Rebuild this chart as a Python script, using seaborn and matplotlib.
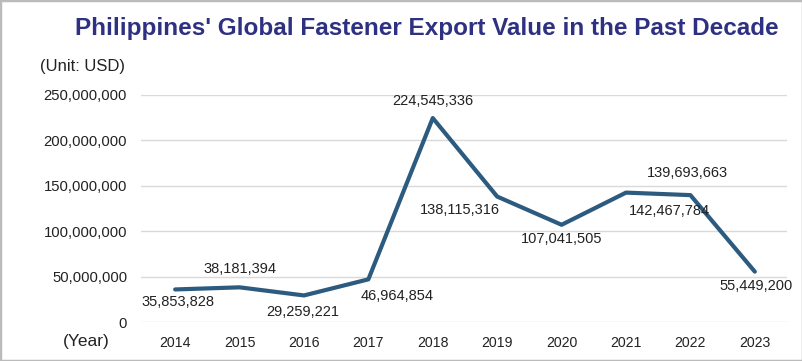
import pandas as pd
import seaborn as sns
import matplotlib.pyplot as plt
from matplotlib.patches import Rectangle

years = ["2014", "2015", "2016", "2017", "2018", "2019", "2020", "2021", "2022", "2023"]
values = [35853828, 38181394, 29259221, 46964854, 224545336,
          138115316, 107041505, 142467784, 139693663, 55449200]
# label offsets in points (dx, dy) relative to each point
offsets = [(2, -9), (0, 13), (-1, -12), (21, -12), (0, 12),
           (-27, -10), (0, -10), (31, -13), (-2, 16), (1, -10.5)]

df = pd.DataFrame({"year": years, "value": values})

sns.set_style("white")
plt.rcParams["font.family"] = ["Liberation Sans", "DejaVu Sans"]

fig = plt.figure(figsize=(8.03, 3.61), dpi=100)
ax = fig.add_axes([0.1756, 0.108, 0.8045, 0.629])

sns.lineplot(data=df, x="year", y="value", ax=ax, color="#2D5B7F",
             linewidth=3, sort=False)

for i, (v, (dx, dy)) in enumerate(zip(values, offsets)):
    ax.annotate(f"{v:,}", (i, v), xytext=(dx, dy), textcoords="offset points",
                ha="center", va="center", fontsize=10.5, color="#222222")

ax.set_ylim(0, 250000000)
ax.set_xlim(-0.53, 9.5)
ax.set_yticks(range(0, 250000001, 50000000))
ax.set_yticklabels([f"{t:,}" for t in range(0, 250000001, 50000000)])
ax.yaxis.grid(True, color="#D9D9D9", linewidth=1)
ax.set_axisbelow(True)
for s in ax.spines.values():
    s.set_visible(False)
ax.tick_params(axis="both", length=0, colors="#222222")
ax.tick_params(axis="x", pad=10, labelsize=10.2)
ax.tick_params(axis="y", pad=10, labelsize=10.7)
ax.set_xlabel("")
ax.set_ylabel("")

fig.text(0.078, 0.053, "(Year)", fontsize=12.5, color="#222222", va="center")
fig.text(0.05, 0.817, "(Unit: USD)", fontsize=12, color="#222222", va="center")
fig.text(0.532, 0.92, "Philippines' Global Fastener Export Value in the Past Decade",
         fontsize=17.5, fontweight="bold", color="#2E3182", ha="center", va="center")

fig.patches.append(Rectangle((0, 0), 1, 1, transform=fig.transFigure, fill=False,
                             edgecolor="#BBBBBB", linewidth=2.5))

fig.savefig("out.png", dpi=100)
